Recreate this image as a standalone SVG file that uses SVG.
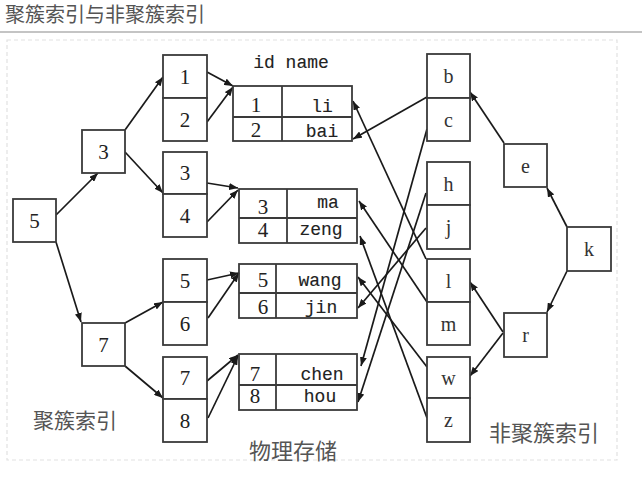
<svg xmlns="http://www.w3.org/2000/svg" width="642" height="485" viewBox="0 0 642 485">
<style>
.bx{fill:#fff;stroke:#3a3a3a;stroke-width:1.8}
.tb{fill:none;stroke:#3a3a3a;stroke-width:1.8}
.ln{fill:none;stroke:#1a1a1a;stroke-width:1.7;marker-end:url(#ah)}
.n{font-family:"Liberation Serif",serif;font-size:21px;fill:#222;text-anchor:middle;dominant-baseline:central}
.l{font-family:"Liberation Serif",serif;font-size:20px;fill:#333;text-anchor:middle;dominant-baseline:central}
.m{font-family:"Liberation Mono",monospace;font-size:18px;fill:#222;stroke:#222;stroke-width:0.12;text-anchor:middle}
.d{font-family:"Liberation Serif",serif;font-size:21px;fill:#222;text-anchor:middle}
.cj{font-family:"Noto Sans CJK SC",sans-serif;fill:#555}
</style>
<defs>
<marker id="ah" markerUnits="userSpaceOnUse" markerWidth="9" markerHeight="7" refX="9" refY="3.5" orient="auto">
<path d="M0,0 L9,3.5 L0,7 z" fill="#1a1a1a"/>
</marker>
</defs>
<rect width="642" height="485" fill="#fff"/>
<text class="cj" x="5" y="22" font-size="20" fill="#666">聚簇索引与非聚簇索引</text>
<line x1="0" y1="32" x2="642" y2="32" stroke="#c4c4c4" stroke-width="2"/>
<rect x="7" y="40" width="610" height="420" fill="none" stroke="#e2e2e2" stroke-width="1.2" stroke-dasharray="4,3"/>

<g id="connectors">
<line class="ln" x1="56" y1="215" x2="98" y2="173"/>
<line class="ln" x1="56" y1="242" x2="81" y2="322"/>
<line class="ln" x1="125" y1="130" x2="163" y2="77"/>
<line class="ln" x1="125" y1="152" x2="163" y2="193"/>
<line class="ln" x1="125" y1="323" x2="163" y2="302"/>
<line class="ln" x1="125" y1="366" x2="163" y2="398"/>
<line class="ln" x1="207" y1="72" x2="233" y2="86"/>
<line class="ln" x1="207" y1="122" x2="233" y2="87"/>
<line class="ln" x1="207" y1="183" x2="238" y2="188"/>
<line class="ln" x1="207" y1="222" x2="238" y2="190"/>
<line class="ln" x1="207" y1="280" x2="239" y2="273"/>
<line class="ln" x1="208" y1="318" x2="239" y2="273"/>
<line class="ln" x1="207" y1="381" x2="238" y2="355"/>
<line class="ln" x1="208" y1="418" x2="238" y2="356"/>
<line class="ln" x1="567" y1="227" x2="547" y2="188"/>
<line class="ln" x1="504" y1="143" x2="470" y2="92"/>
<line class="ln" x1="567" y1="271" x2="547" y2="312"/>
<line class="ln" x1="503" y1="332" x2="470" y2="282"/>
<line class="ln" x1="503" y1="333" x2="470" y2="376"/>
<line class="ln" x1="427" y1="97" x2="353" y2="139"/>
<line class="ln" x1="427" y1="129" x2="361" y2="366"/>
<line class="ln" x1="426" y1="193" x2="358" y2="402"/>
<line class="ln" x1="426" y1="228" x2="358" y2="308"/>
<line class="ln" x1="426" y1="259" x2="353" y2="101"/>
<line class="ln" x1="427" y1="302" x2="359" y2="201"/>
<line class="ln" x1="427" y1="367" x2="358" y2="277"/>
<line class="ln" x1="427" y1="418" x2="360" y2="236"/>
</g>

<g id="n5"><rect class="bx" x="13" y="199" width="43" height="43"/><text class="n" x="34.5" y="220.5">5</text></g>
<g id="n3"><rect class="bx" x="82" y="130" width="43" height="43"/><text class="n" x="103.5" y="151.5">3</text></g>
<g id="n7"><rect class="bx" x="82" y="323" width="43" height="43"/><text class="n" x="103.5" y="344.5">7</text></g>

<g id="leaf12"><rect class="bx" x="163" y="55" width="44" height="43"/><rect class="bx" x="163" y="98" width="44" height="43"/><text class="n" x="185" y="76.5">1</text><text class="n" x="185" y="119.5">2</text></g>
<g id="leaf34"><rect class="bx" x="163" y="152" width="44" height="42"/><rect class="bx" x="163" y="194" width="44" height="43"/><text class="n" x="185" y="173">3</text><text class="n" x="185" y="215.5">4</text></g>
<g id="leaf56"><rect class="bx" x="163" y="259" width="44" height="43"/><rect class="bx" x="163" y="302" width="44" height="43"/><text class="n" x="185" y="280.5">5</text><text class="n" x="185" y="323.5">6</text></g>
<g id="leaf78"><rect class="bx" x="163" y="357" width="44" height="42"/><rect class="bx" x="163" y="399" width="44" height="43"/><text class="n" x="185" y="378">7</text><text class="n" x="185" y="420.5">8</text></g>

<g id="header"><text class="m" x="291" y="68">id name</text></g>
<g id="table1"><rect class="tb" x="233" y="86" width="119" height="55"/><line class="tb" x1="233" y1="117" x2="352" y2="117"/><line class="tb" x1="282" y1="86" x2="282" y2="141"/>
<text class="d" x="256" y="112">1</text><text class="m" x="322" y="112">li</text><text class="d" x="256" y="137">2</text><text class="m" x="322" y="137">bai</text></g>
<g id="table2"><rect class="tb" x="239" y="189" width="118" height="54"/><line class="tb" x1="239" y1="218" x2="357" y2="218"/><line class="tb" x1="287" y1="189" x2="287" y2="243"/>
<text class="d" x="263" y="214">3</text><text class="m" x="328" y="208">ma</text><text class="d" x="263" y="237">4</text><text class="m" x="321" y="235">zeng</text></g>
<g id="table3"><rect class="tb" x="239" y="264" width="118" height="54"/><line class="tb" x1="239" y1="293" x2="357" y2="293"/><line class="tb" x1="276" y1="264" x2="276" y2="318"/>
<text class="d" x="263" y="287">5</text><text class="m" x="320" y="286">wang</text><text class="d" x="263" y="314">6</text><text class="m" x="321" y="313">jin</text></g>
<g id="table4"><rect class="tb" x="239" y="354" width="118" height="56"/><line class="tb" x1="239" y1="385" x2="357" y2="385"/><line class="tb" x1="276" y1="354" x2="276" y2="410"/>
<text class="d" x="255" y="381">7</text><text class="m" x="322" y="380">chen</text><text class="d" x="255" y="403">8</text><text class="m" x="320" y="402">hou</text></g>

<g id="bc"><rect class="bx" x="427" y="54" width="43" height="44"/><rect class="bx" x="427" y="98" width="43" height="43"/><text class="l" x="448.5" y="76">b</text><text class="l" x="448.5" y="119.5">c</text></g>
<g id="hj"><rect class="bx" x="427" y="162" width="43" height="43"/><rect class="bx" x="427" y="205" width="43" height="44"/><text class="l" x="448.5" y="183.5">h</text><text class="l" x="448.5" y="227">j</text></g>
<g id="lm"><rect class="bx" x="427" y="259" width="43" height="43"/><rect class="bx" x="427" y="302" width="43" height="43"/><text class="l" x="448.5" y="280.5">l</text><text class="l" x="448.5" y="323.5">m</text></g>
<g id="wz"><rect class="bx" x="427" y="357" width="43" height="41"/><rect class="bx" x="427" y="398" width="43" height="44"/><text class="l" x="448.5" y="377.5">w</text><text class="l" x="448.5" y="420">z</text></g>
<g id="ne"><rect class="bx" x="504" y="144" width="43" height="43"/><text class="l" x="525.5" y="165.5">e</text></g>
<g id="nk"><rect class="bx" x="567" y="227" width="44" height="44"/><text class="l" x="589" y="249">k</text></g>
<g id="nr"><rect class="bx" x="504" y="313" width="43" height="44"/><text class="l" x="525.5" y="335">r</text></g>

<g id="labels">
<text class="cj" x="33" y="428" font-size="21">聚簇索引</text>
<text class="cj" x="249" y="459" font-size="22">物理存储</text>
<text class="cj" x="489" y="441" font-size="22">非聚簇索引</text>
</g>
</svg>
